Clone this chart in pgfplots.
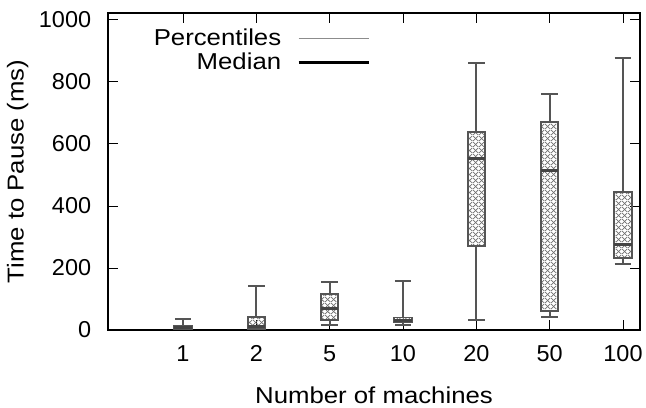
\documentclass[border=0pt]{standalone}
\usepackage{fontspec}
\setmainfont{Liberation Sans}[FakeStretch=1.12]
\newfontfamily\tickfont{Liberation Sans}[FakeStretch=1.02]
\usepackage{pgfplots}
\pgfplotsset{compat=1.18}
\usepgfplotslibrary{statistics}
\usetikzlibrary{patterns.meta}
\definecolor{boxc}{HTML}{555555}
\definecolor{medc}{HTML}{444444}
\definecolor{hatchc}{HTML}{707070}
\definecolor{pctc}{HTML}{8C8C8C}
\tikzdeclarepattern{
  name=xhatch,
  type=uncolored,
  bounding box={(0,0) and (5.5pt,5.5pt)},
  tile size={(5.5pt,5.5pt)},
  code={
    \draw[line width=0.75pt] (0,0) -- (5.5pt,5.5pt);
    \draw[line width=0.75pt] (0,5.5pt) -- (5.5pt,0);
  }
}
\begin{document}
\fontsize{23}{27}\selectfont
\begin{tikzpicture}
\begin{axis}[
  name=ax,
  scale only axis,
  width=532pt, height=317pt,
  xmin=-1.023, xmax=6.232,
  ymin=0, ymax=1022,
  xtick={0,1,2,3,4,5,6},
  xticklabels={1,2,5,10,20,50,100},
  ytick={0,200,400,600,800,1000},
  tick align=inside,
  major tick length=10pt,
  tick style={black, line width=0.8pt},
  axis line style={black, line width=1.2pt},
  /pgf/number format/assume math mode=true,
  /pgf/number format/set thousands separator={},
  tick label style={font=\tickfont\fontsize{23}{27}\selectfont},
  xticklabel style={yshift=-8pt},
  yticklabel style={xshift=-9pt},
  label style={font=\fontsize{23}{27}\selectfont},
  xlabel={Number of machines},
  ylabel={Time to Pause (ms)},
  xlabel style={yshift=-9pt},
  ylabel style={yshift=-5pt},
  boxplot/draw direction=y,
  boxplot/box extend=0.235,
  boxplot/whisker extend=0.225,
  boxplot/every box/.style={draw=boxc, line width=1.8pt, pattern=xhatch, pattern color=hatchc},
  boxplot/every whisker/.style={draw=boxc, line width=1.8pt},
  boxplot/every median/.style={draw=medc, line width=3pt},
  legend style={draw=none, fill=none, at={(0.4925,0.958)}, anchor=north east,
    font=\fontsize{23}{27}\selectfont, row sep=0pt, column sep=14pt, inner sep=0pt},
  legend cell align=right,
  legend plot pos=right,
  legend image code/.code={\draw[#1] (0pt,0pt) -- (70pt,0pt);},
]
\addplot+[forget plot, boxc, mark=none, boxplot prepared={draw position=0,
  lower whisker=2, lower quartile=3, median=8, upper quartile=12, upper whisker=35}] coordinates {};
\addplot+[forget plot, boxc, mark=none, boxplot prepared={draw position=1,
  lower whisker=3, lower quartile=3, median=10, upper quartile=43, upper whisker=142}] coordinates {};
\addplot+[forget plot, boxc, mark=none, boxplot prepared={draw position=2,
  lower whisker=17, lower quartile=31, median=70, upper quartile=115, upper whisker=154}] coordinates {};
\addplot+[forget plot, boxc, mark=none, boxplot prepared={draw position=3,
  lower whisker=16, lower quartile=25, median=32, upper quartile=40, upper whisker=157}] coordinates {};
\addplot+[forget plot, boxc, mark=none, boxplot prepared={draw position=4,
  lower whisker=32, lower quartile=271, median=552, upper quartile=638, upper whisker=860}] coordinates {};
\addplot+[forget plot, boxc, mark=none, boxplot prepared={draw position=5,
  lower whisker=43, lower quartile=61, median=515, upper quartile=671, upper whisker=761}] coordinates {};
\addplot+[forget plot, boxc, mark=none, boxplot prepared={draw position=6,
  lower whisker=212, lower quartile=233, median=276, upper quartile=446, upper whisker=876}] coordinates {};
\addlegendimage{line width=1.6pt, color=pctc}
\addlegendentry{Percentiles}
\addlegendimage{line width=2.6pt, black}
\addlegendentry{Median}
\end{axis}
\pgfresetboundingbox
\path ([xshift=-108pt,yshift=-78pt]ax.south west) rectangle ([xshift=6pt,yshift=13pt]ax.north east);
\end{tikzpicture}
\end{document}
